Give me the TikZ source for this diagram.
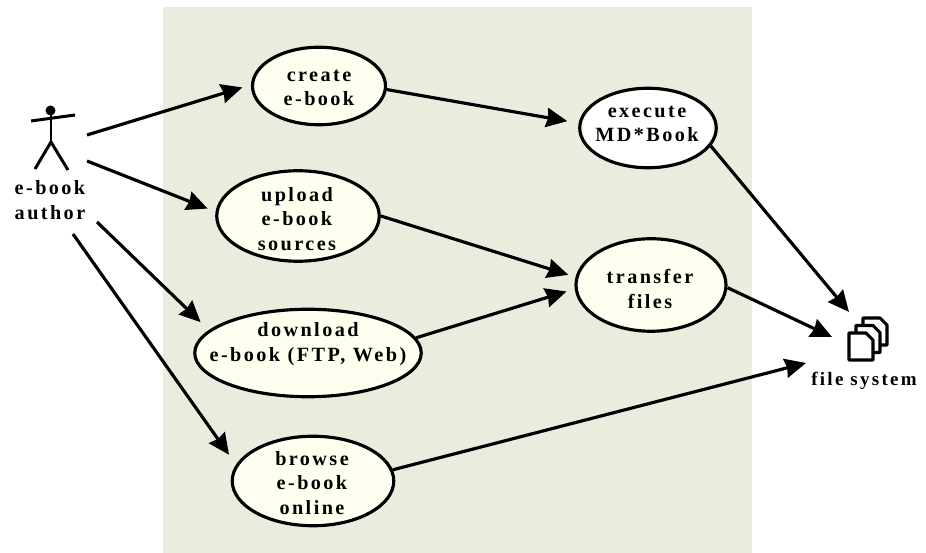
\documentclass[tikz,border=0pt]{standalone}
\usepackage{fontspec}
\setmainfont{Liberation Serif}[LetterSpace=12]
\usetikzlibrary{arrows.meta,shapes.geometric}
\tikzset{
  usecase/.style={draw, ellipse, line width=1.8pt, fill=caseyellow, inner sep=0pt},
  caselabel/.style={align=center, inner sep=0pt, font=\casefont},
  flow/.style={-{Stealth[length=12pt,width=11pt,inset=1pt]}, line width=1.8pt},
  stick/.style={line width=1.7pt},
  page/.style={draw, line width=1.8pt, fill=white, line join=round}
}
\newcommand{\casefont}{\fontsize{11.5}{14}\selectfont\bfseries}
\definecolor{caseback}{RGB}{236,236,222}
\definecolor{caseyellow}{RGB}{255,255,240}
\begin{document}
\begin{tikzpicture}
\useasboundingbox (0,0) rectangle (18.52,11.06);
\fill [caseback] (3.26,0) rectangle (15.04,10.92);
% use cases
\node [usecase, minimum width=2.66cm, minimum height=1.55cm] (create) at (6.38,9.34) {};
\node [caselabel] (createtext) at (6.38,9.3) {create\\e-book};
\node [usecase, minimum width=2.73cm, minimum height=1.59cm, fill=white] (execute) at (12.96,8.5) {};
\node [caselabel] (executetext) at (12.94,8.58) {execute\\MD*Book};
\node [usecase, minimum width=3.25cm, minimum height=1.81cm] (upload) at (5.96,6.74) {};
\node [caselabel] (uploadtext) at (5.94,6.68) {upload\\e-book\\sources};
\node [usecase, minimum width=3cm, minimum height=1.85cm] (transfer) at (13.02,5.36) {};
\node [caselabel] (transfertext) at (13,5.28) {transfer\\files};
\node [usecase, minimum width=4.53cm, minimum height=1.75cm] (download) at (6.16,4) {};
\node [caselabel] (downloadtext) at (6.16,4.18) {download\\e-book (FTP, Web)};
\node [usecase, minimum width=3.23cm, minimum height=1.79cm] (browse) at (6.26,1.44) {};
\node [caselabel] (browsetext) at (6.24,1.4) {browse\\e-book\\online};
% actor
\fill (1.01,8.85) circle (0.1);
\draw [stick] (1.02,8.85) -- (1.02,8.22);
\draw [stick] (0.62,8.64) -- (1.5,8.76);
\draw [stick] (0.7,7.68) -- (1.02,8.22) -- (1.36,7.66);
\node [caselabel] (author) at (1,7.06) {e-book\\author};
% file system
\foreach \dx/\dy in {0.28/0.3, 0.14/0.15, 0/0} {
  \draw [page] (16.98+\dx,3.86+\dy) -- ++(0,0.54) -- ++(0.34,0) -- ++(0.14,-0.14) -- ++(0,-0.4) -- cycle;
}
\node [caselabel, font=\fontsize{10.8}{14}\selectfont\bfseries] (files) at (17.28,3.44) {file system};
% free ends
\coordinate (a1) at (1.74,8.36);
\coordinate (a2) at (1.74,7.84);
\coordinate (a3) at (1.94,6.62);
\coordinate (a4) at (1.46,6.38);
\coordinate (fs1) at (16.98,4.82);
\coordinate (fs2) at (16.64,4.32);
\coordinate (fs3) at (16.12,3.8);
% arrows
\draw [flow, shorten >=0.18cm] (a1) -- (create.179);
\draw [flow, shorten >=0.17cm] (a2) -- (upload.177);
\draw [flow, shorten >=0.23cm] (a3) -- (download.167);
\draw [flow, shorten >=0.24cm] (a4) -- (browse.168);
\draw [flow, shorten >=0.23cm] (create.357) -- (execute.176);
\draw [flow] (execute.344) -- (fs1);
\draw [flow, shorten >=0.15cm] (upload.0) -- (transfer.174);
\draw [flow, shorten >=0.17cm] (download.8) -- (transfer.183);
\draw [flow] (transfer.358) -- (fs2);
\draw [flow] (browse.8) -- (fs3);
\end{tikzpicture}
\end{document}
